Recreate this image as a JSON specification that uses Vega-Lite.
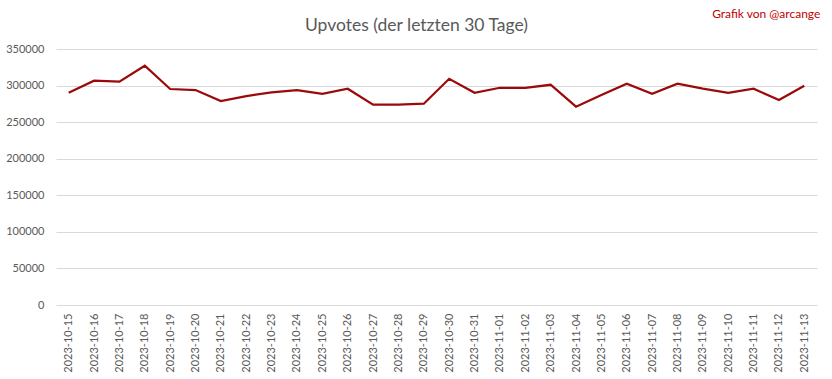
{
  "$schema": "https://vega.github.io/schema/vega-lite/v6.json",
  "autosize": {"type": "none"},
  "padding": {"left": 56, "top": 49, "right": 15, "bottom": 74},
  "width": 761,
  "height": 256,
  "background": "white",
  "title": {
    "text": "Upvotes (der letzten 30 Tage)",
    "font": "Lato",
    "fontSize": 17.5,
    "fontWeight": "normal",
    "color": "#595959",
    "anchor": "middle",
    "frame": "group",
    "dx": -20,
    "offset": -26
  },
  "config": {
    "view": {"stroke": null},
    "font": "Lato"
  },
  "data": {
    "values": [
      {"date": "2023-10-15", "upvotes": 290200},
      {"date": "2023-10-16", "upvotes": 306600},
      {"date": "2023-10-17", "upvotes": 305300},
      {"date": "2023-10-18", "upvotes": 327100},
      {"date": "2023-10-19", "upvotes": 295300},
      {"date": "2023-10-20", "upvotes": 293900},
      {"date": "2023-10-21", "upvotes": 278900},
      {"date": "2023-10-22", "upvotes": 285700},
      {"date": "2023-10-23", "upvotes": 290800},
      {"date": "2023-10-24", "upvotes": 293900},
      {"date": "2023-10-25", "upvotes": 288800},
      {"date": "2023-10-26", "upvotes": 295700},
      {"date": "2023-10-27", "upvotes": 273800},
      {"date": "2023-10-28", "upvotes": 273800},
      {"date": "2023-10-29", "upvotes": 275200},
      {"date": "2023-10-30", "upvotes": 309300},
      {"date": "2023-10-31", "upvotes": 290200},
      {"date": "2023-11-01", "upvotes": 297000},
      {"date": "2023-11-02", "upvotes": 297000},
      {"date": "2023-11-03", "upvotes": 301100},
      {"date": "2023-11-04", "upvotes": 271100},
      {"date": "2023-11-05", "upvotes": 287100},
      {"date": "2023-11-06", "upvotes": 302500},
      {"date": "2023-11-07", "upvotes": 288800},
      {"date": "2023-11-08", "upvotes": 302500},
      {"date": "2023-11-09", "upvotes": 295700},
      {"date": "2023-11-10", "upvotes": 290200},
      {"date": "2023-11-11", "upvotes": 295700},
      {"date": "2023-11-12", "upvotes": 280200},
      {"date": "2023-11-13", "upvotes": 299800}
    ]
  },
  "resolve": {"axis": {"x": "independent", "y": "independent"}},
  "layer": [
    {
      "mark": {"type": "line", "color": "#9b0a0a", "strokeWidth": 2.25},
      "encoding": {
        "x": {
          "field": "date",
          "type": "ordinal",
          "sort": null,
          "scale": {"type": "point", "padding": 0.5},
          "axis": {
            "title": null,
            "labelAngle": -90,
            "labelFontSize": 11,
            "labelColor": "#595959",
            "labelPadding": 8,
            "ticks": false,
            "domain": false,
            "grid": false
          }
        },
        "y": {
          "field": "upvotes",
          "type": "quantitative",
          "scale": {"domain": [0, 350000], "nice": false},
          "axis": {
            "title": null,
            "values": [0, 50000, 100000, 150000, 200000, 250000, 300000, 350000],
            "format": "d",
            "labelOverlap": false,
            "labelFontSize": 11,
            "labelColor": "#595959",
            "labelPadding": 12,
            "ticks": false,
            "domain": false,
            "grid": true,
            "gridColor": "#d9d9d9",
            "gridWidth": 1
          }
        }
      }
    },
    {
      "data": {"values": [{"date": "2023-11-13", "label": "Grafik von @arcange"}]},
      "mark": {
        "type": "text",
        "font": "Lato",
        "fontSize": 12,
        "color": "#c00000",
        "align": "right",
        "baseline": "middle",
        "dx": 16,
        "dy": -35
      },
      "encoding": {
        "x": {"field": "date", "type": "ordinal", "axis": null},
        "y": {"datum": 350000, "axis": null},
        "text": {"field": "label"}
      }
    }
  ]
}
